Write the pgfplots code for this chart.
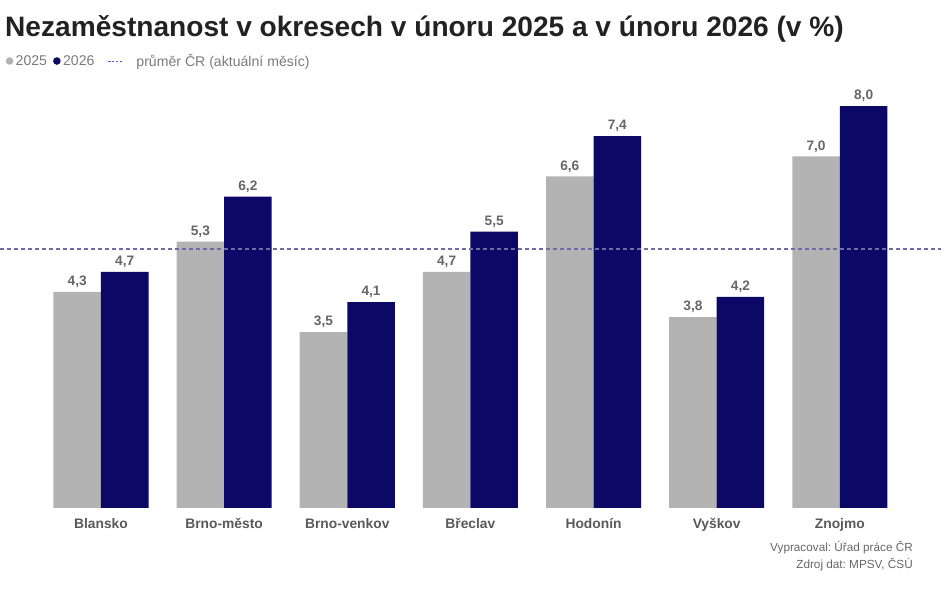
\documentclass[border=0pt]{standalone}
\usepackage{pgfplots}
\pgfplotsset{compat=1.18}
\usepackage{fontspec}
\setmainfont{Liberation Sans}
\frenchspacing
\definecolor{g25}{HTML}{B3B3B3}
\definecolor{n26}{HTML}{0B0866}
\definecolor{avgc}{HTML}{6C6CA6}
\definecolor{legdash}{HTML}{5A5AC8}
\definecolor{titlec}{HTML}{222222}
\definecolor{labc}{HTML}{595959}
\definecolor{valc}{HTML}{666666}
\definecolor{legc}{HTML}{7A7A7A}
\begin{document}
\begin{tikzpicture}
\path[use as bounding box] (0,0) rectangle (950pt,591pt);
\begin{axis}[
 at={(39.4pt,83pt)}, anchor=south west,
 scale only axis, width=862pt, height=422pt,
 xmin=-0.5, xmax=6.5, ymin=0, ymax=8.4,
 clip=false,
 axis line style={draw=none},
 ytick=\empty,
 xtick={0,...,6},
 xticklabels={Blansko,Brno-město,Brno-venkov,Břeclav,Hodonín,Vyškov,Znojmo},
 xtick style={draw=none},
 major tick length=0pt,
 xticklabel style={font=\fontsize{13.8}{15}\selectfont\bfseries, text=labc, anchor=north, inner sep=0pt, yshift=-10pt},
 legend columns=3, legend cell align=left,
 legend style={at={(-0.0393,1.0592)}, anchor=west, draw=none, fill=none, inner sep=0pt,
   font=\fontsize{14.1}{16}\selectfont, text=legc, nodes={inner sep=0pt},
   /tikz/every even column/.append style={column sep=6pt}},
 valnodes/.style={nodes near coords={\pgfmathprintnumber[fixed,fixed zerofill,precision=1,use comma,assume math mode=true]{\pgfplotspointmeta}},
   every node near coord/.append style={font=\fontsize{13.7}{15}\selectfont\bfseries, text=valc, inner sep=0pt, yshift=4pt, anchor=south}},
]
\addplot[ybar, bar width=0.386, bar shift=0, fill=g25, draw=none, valnodes,
  legend image code/.code={\path[draw=none,fill=none] (0pt,0pt) -- (10pt,0pt); \fill[g25,draw=none] (3.8pt,0pt) circle (3.8pt);}]
  coordinates {(-0.193,4.3) (0.807,5.3) (1.807,3.5) (2.807,4.7) (3.807,6.6) (4.807,3.8) (5.807,7.0)};
\addlegendentry{2025}
\addplot[ybar, bar width=0.386, bar shift=0, fill=n26, draw=none, valnodes,
  legend image code/.code={\path[draw=none,fill=none] (0pt,0pt) -- (10pt,0pt); \fill[n26,draw=none] (3.8pt,0pt) circle (3.8pt);}]
  coordinates {(0.193,4.7) (1.193,6.2) (2.193,4.1) (3.193,5.5) (4.193,7.4) (5.193,4.2) (6.193,8.0)};
\addlegendentry{2026}
\addplot[sharp plot, no marks, avgc, line width=2pt, dash pattern=on 4pt off 3pt,
  legend image code/.code={\path[draw=none] (0pt,0pt) -- (36pt,0pt); \draw[legdash, line width=1pt, dash pattern=on 2.2pt off 1.6pt] (8pt,0pt) -- (23pt,0pt);}]
  coordinates {(-0.82,5.15) (6.82,5.15)};
\addlegendentry{průměr ČR (aktuální měsíc)}
\end{axis}
\node[anchor=base west, font=\fontsize{28.1}{30}\selectfont\bfseries, text=titlec, inner sep=0pt] at (5pt,554pt) {Nezaměstnanost v okresech v únoru 2025 a v únoru 2026 (v \%)};
\node[anchor=base east, font=\fontsize{11.75}{13}\selectfont, text=valc, inner sep=0pt] at (913pt,39pt) {Vypracoval: Úřad práce ČR};
\node[anchor=base east, font=\fontsize{11.75}{13}\selectfont, text=valc, inner sep=0pt] at (913pt,22pt) {Zdroj dat: MPSV, ČSÚ};
\end{tikzpicture}
\end{document}
